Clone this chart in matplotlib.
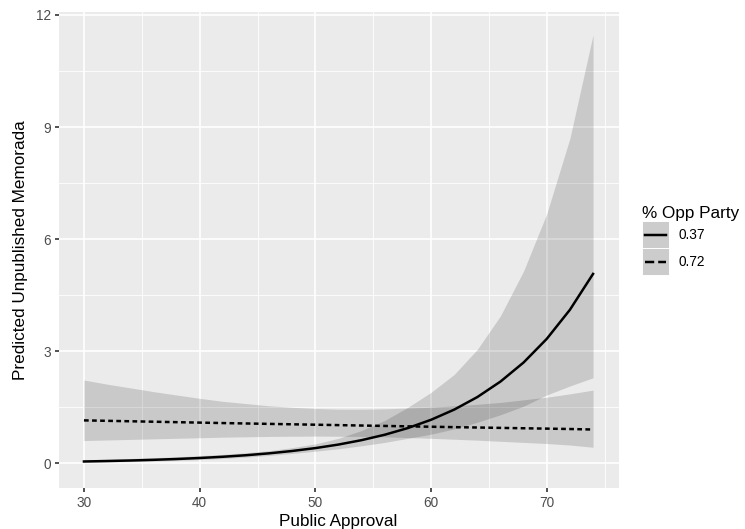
import matplotlib
matplotlib.use("Agg")
import matplotlib.pyplot as plt
from matplotlib.patches import Rectangle
from matplotlib.lines import Line2D

# values
approval = [30, 32, 34, 36, 38, 40, 42, 44, 46, 48, 50, 52,
            54, 56, 58, 60, 62, 64, 66, 68, 70, 72, 74]

# % opp party = 0.37
fit_37 = [0.050, 0.062, 0.076, 0.094, 0.116, 0.143, 0.176, 0.217, 0.268, 0.331, 0.408, 0.503,
          0.621, 0.766, 0.945, 1.166, 1.438, 1.774, 2.189, 2.700, 3.332, 4.110, 5.07]
lo_37 = [0.026, 0.035, 0.046, 0.060, 0.078, 0.100, 0.130, 0.167, 0.212, 0.265, 0.325, 0.39,
         0.47, 0.56, 0.67, 0.78, 0.92, 1.10, 1.30, 1.53, 1.83, 2.07, 2.29]
hi_37 = [0.095, 0.11, 0.13, 0.15, 0.175, 0.205, 0.24, 0.285, 0.34, 0.42, 0.52, 0.67,
         0.88, 1.15, 1.50, 1.90, 2.38, 3.05, 3.95, 5.15, 6.68, 8.70, 11.47]

# % opp party = 0.72
fit_72 = [1.150, 1.138, 1.126, 1.114, 1.102, 1.090, 1.078, 1.067, 1.056, 1.045, 1.034, 1.023,
          1.012, 1.001, 0.990, 0.980, 0.969, 0.959, 0.949, 0.939, 0.929, 0.919, 0.905]
lo_72 = [0.61, 0.625, 0.64, 0.655, 0.67, 0.685, 0.70, 0.71, 0.72, 0.725, 0.73, 0.725,
         0.72, 0.71, 0.69, 0.67, 0.645, 0.62, 0.59, 0.56, 0.53, 0.49, 0.43]
hi_72 = [2.23, 2.12, 2.02, 1.92, 1.83, 1.74, 1.66, 1.60, 1.54, 1.50, 1.47, 1.45,
         1.45, 1.46, 1.48, 1.50, 1.54, 1.58, 1.63, 1.70, 1.77, 1.86, 1.96]

group_labels = ["0.37", "0.72"]
x_ticks = [30, 40, 50, 60, 70]
y_ticks = [0, 3, 6, 9, 12]

plt.rcParams['font.family'] = ['Liberation Sans', 'DejaVu Sans']


class KeyHandler:
    # grey key square with the line centred on it, like a ggplot legend key
    def legend_artist(self, legend, orig_handle, fontsize, handlebox):
        x0, y0 = handlebox.xdescent, handlebox.ydescent
        w, h = handlebox.width, handlebox.height
        tr = handlebox.get_transform()
        rect = Rectangle((-x0, -y0), w, h, facecolor='#CCCCCC', edgecolor='white',
                         lw=0.6, transform=tr)
        line = Line2D([-x0 + 0.11 * w, -x0 + 0.89 * w], [-y0 + h / 2] * 2,
                      color='black', lw=1.6, ls=orig_handle.get_linestyle(),
                      transform=tr)
        handlebox.add_artist(rect)
        handlebox.add_artist(line)
        return line


DPI = 112
fig = plt.figure(figsize=(745 / DPI, 529 / DPI), dpi=DPI)
W, H = 745, 529
ax = fig.add_axes([58.5 / W, 1 - 488 / H, (618.5 - 58.5) / W, (488 - 12) / H])
ax.set_facecolor('#EBEBEB')
for sp in ax.spines.values():
    sp.set_visible(False)

# grid like ggplot theme_grey
ax.set_xticks(x_ticks)
ax.set_yticks(y_ticks)
ax.set_xticks([35, 45, 55, 65, 75], minor=True)
ax.set_yticks([1.5, 4.5, 7.5, 10.5], minor=True)
ax.grid(which='major', color='white', lw=1.07)
ax.grid(which='minor', color='white', lw=0.53)
ax.set_axisbelow(True)

dash = (0, (1.9, 1.35))
ax.fill_between(approval, lo_37, hi_37, color='black', alpha=0.14, lw=0, zorder=2)
ax.fill_between(approval, lo_72, hi_72, color='black', alpha=0.14, lw=0, zorder=2)
l37, = ax.plot(approval, fit_37, color='black', lw=1.6, zorder=3)
l72, = ax.plot(approval, fit_72, color='black', lw=1.6, ls=dash, zorder=3)

ax.set_xlim(27.8, 76.2)
ax.set_ylim(-0.66, 12.08)

ax.tick_params(which='major', length=2.75, width=1.07, color='#333333',
               labelcolor='#4D4D4D', labelsize=8.8, pad=2.2)
ax.tick_params(which='minor', length=0)

ax.set_xlabel('Public Approval', fontsize=11, color='black', labelpad=3)
ax.set_ylabel('Predicted Unpublished Memorada', fontsize=11, color='black', labelpad=5)

leg = fig.legend([l37, l72], group_labels, title='% Opp Party',
                 handler_map={Line2D: KeyHandler()},
                 loc='upper left', bbox_to_anchor=(642 / W, 1 - 206 / H),
                 frameon=False, fontsize=8.8, title_fontsize=11,
                 handlelength=1.97, handleheight=2.66, labelspacing=0.0,
                 handletextpad=0.66, borderpad=0, borderaxespad=0,
                 alignment='left')

fig.savefig('out.png', dpi=DPI)
